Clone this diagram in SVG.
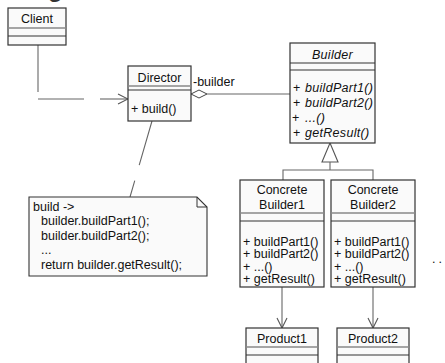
<svg xmlns="http://www.w3.org/2000/svg" width="445" height="363" viewBox="0 0 445 363">
  <style>
    text { font-family: "Liberation Sans", Arial, sans-serif; font-size: 12.5px; fill: #111; }
    .title { font-size: 24px; font-weight: bold; fill: #333; }
    .mid { text-anchor: middle; }
    .it { font-style: italic; letter-spacing: 0.3px; }
    .box { fill: #fafafa; stroke: #333; stroke-width: 1.2; }
    .sep1 { stroke: #888; stroke-width: 1.6; }
    .sep2 { stroke: #333; stroke-width: 1; }
    .wire { fill: none; stroke: #666; stroke-width: 1.1; }
    .note { fill: #fafafa; stroke: #333; stroke-width: 1.1; }
  </style>
  <defs>
    <marker id="open" viewBox="0 0 12 12" refX="11" refY="6" markerWidth="12" markerHeight="12" markerUnits="userSpaceOnUse" orient="auto">
      <path d="M1,1 L11,6 L1,11" fill="none" stroke="#555" stroke-width="1.1"/>
    </marker>
  </defs>

  <rect width="445" height="363" fill="#fff"/>
  <text class="title" x="48" y="-3">g</text>

  <!-- connectors -->
  <g id="connectors">
    <!-- client -> director -->
    <line class="wire" x1="38" y1="45" x2="38" y2="92"/>
    <line class="wire" x1="38" y1="99" x2="84" y2="99"/>
    <line class="wire" x1="100" y1="99" x2="128" y2="99" marker-end="url(#open)"/>
    <!-- director <>- builder -->
    <polygon points="191,94 199,90 207,94 199,98" fill="#fff" stroke="#444" stroke-width="1"/>
    <line class="wire" x1="207" y1="94" x2="290" y2="94"/>
    <text x="193" y="86">-builder</text>
    <!-- generalization -->
    <polygon points="330,143 322,162 338,162" fill="#fff" stroke="#555" stroke-width="1.1"/>
    <polyline class="wire" points="330,162 330,170"/>
    <polyline class="wire" points="283,180 283,170 373,170 373,180"/>
    <!-- builders -> products -->
    <line class="wire" x1="282" y1="287" x2="282" y2="328" marker-end="url(#open)"/>
    <line class="wire" x1="373" y1="287" x2="373" y2="328" marker-end="url(#open)"/>
    <!-- note anchor -->
    <line class="wire" x1="152" y1="121" x2="130" y2="197" stroke-dasharray="46 16"/>
  </g>

  <g id="client">
    <rect class="box" x="8" y="8" width="58" height="37"/>
    <line class="sep1" x1="8" y1="28" x2="66" y2="28"/>
    <line class="sep2" x1="8" y1="36" x2="66" y2="36"/>
    <text class="mid" x="37" y="23">Client</text>
  </g>

  <g id="director">
    <rect class="box" x="128" y="66" width="63" height="55"/>
    <line class="sep1" x1="128" y1="86" x2="191" y2="86"/>
    <line class="sep2" x1="128" y1="90" x2="191" y2="90"/>
    <text class="mid" x="159.5" y="82">Director</text>
    <text x="131" y="113">+ build()</text>
  </g>

  <g id="builder">
    <rect class="box" x="290" y="43" width="85" height="100"/>
    <line class="sep2" x1="290" y1="63" x2="375" y2="63"/>
    <line class="sep2" x1="290" y1="70" x2="375" y2="70"/>
    <text class="mid it" x="332.5" y="59">Builder</text>
    <text x="293" y="92">+</text><text class="it" x="305" y="92">buildPart1()</text>
    <text x="293" y="107">+</text><text class="it" x="305" y="107">buildPart2()</text>
    <text x="292" y="122">+</text><text class="it" x="305" y="122">...()</text>
    <text x="293" y="137">+</text><text class="it" x="305" y="137">getResult()</text>
  </g>

  <g id="concrete-builder1">
    <rect class="box" x="240" y="180" width="84" height="107"/>
    <line class="sep1" x1="240" y1="213" x2="324" y2="213"/>
    <line class="sep2" x1="240" y1="221" x2="324" y2="221"/>
    <text class="mid" x="282" y="194">Concrete</text>
    <text class="mid" x="282" y="209">Builder1</text>
    <text x="243" y="245.5">+ buildPart1()</text>
    <text x="243" y="258">+ buildPart2()</text>
    <text x="243" y="270.5">+ ...()</text>
    <text x="243" y="283">+ getResult()</text>
  </g>

  <g id="concrete-builder2">
    <rect class="box" x="331" y="180" width="84" height="107"/>
    <line class="sep1" x1="331" y1="213" x2="415" y2="213"/>
    <line class="sep2" x1="331" y1="221" x2="415" y2="221"/>
    <text class="mid" x="373" y="194">Concrete</text>
    <text class="mid" x="373" y="209">Builder2</text>
    <text x="334" y="245.5">+ buildPart1()</text>
    <text x="334" y="258">+ buildPart2()</text>
    <text x="334" y="270.5">+ ...()</text>
    <text x="334" y="283">+ getResult()</text>
  </g>

  <g id="more">
    <text x="432" y="263" letter-spacing="3">..</text>
  </g>

  <g id="product1">
    <rect class="box" x="246" y="328" width="72" height="45"/>
    <line class="sep1" x1="246" y1="347" x2="318" y2="347"/>
    <line class="sep2" x1="246" y1="355" x2="318" y2="355"/>
    <text class="mid" x="282" y="343">Product1</text>
  </g>

  <g id="product2">
    <rect class="box" x="337" y="328" width="72" height="45"/>
    <line class="sep1" x1="337" y1="347" x2="409" y2="347"/>
    <line class="sep2" x1="337" y1="355" x2="409" y2="355"/>
    <text class="mid" x="373" y="343">Product2</text>
  </g>

  <g id="note">
    <path class="note" d="M29,197 H197 L207,207 V276 H29 Z"/>
    <path d="M197,197 V207 H207" fill="none" stroke="#333" stroke-width="1"/>
    <text x="33" y="210.5">build -&gt;</text>
    <text x="41" y="225">builder.buildPart1();</text>
    <text x="41" y="239.5">builder.buildPart2();</text>
    <text x="41" y="254">...</text>
    <text x="41" y="268.5">return builder.getResult();</text>
  </g>
</svg>
